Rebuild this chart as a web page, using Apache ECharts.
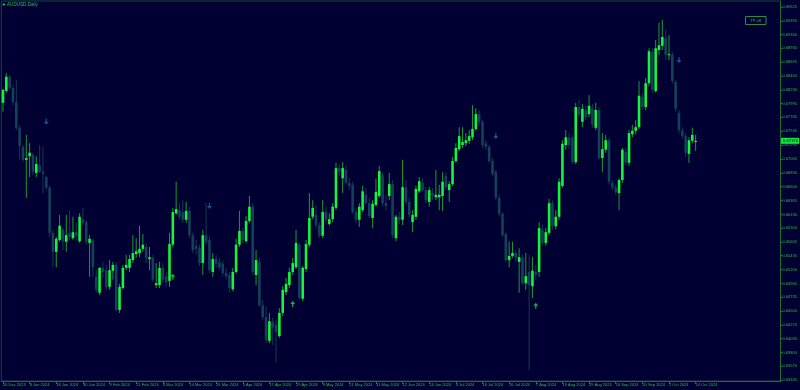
<!DOCTYPE html>
<html><head><meta charset="utf-8">
<script src="https://cdn.jsdelivr.net/npm/echarts@6/dist/echarts.min.js"></script>
<style>html,body{margin:0;padding:0;background:#000032;}#c{width:800px;height:390px;}</style>
</head><body><div id="c"></div>
<script>
const symbolTitle = 'AUDUSD,Daily';
const tpText = 'TP off';
const dateLabels = ['26 Dec 2023','8 Jan 2024','18 Jan 2024','30 Jan 2024','9 Feb 2024','21 Feb 2024','4 Mar 2024','14 Mar 2024','26 Mar 2024','5 Apr 2024','17 Apr 2024','29 Apr 2024','9 May 2024','21 May 2024','31 May 2024','12 Jun 2024','24 Jun 2024','4 Jul 2024','16 Jul 2024','26 Jul 2024','7 Aug 2024','19 Aug 2024','29 Aug 2024','10 Sep 2024','20 Sep 2024','2 Oct 2024','14 Oct 2024'];
const yTicks = [0.69625,0.69390,0.69160,0.68930,0.68695,0.68460,0.68230,0.67995,0.67765,0.67530,0.67295,0.67065,0.66830,0.66600,0.66365,0.66130,0.65900,0.65665,0.65435,0.65200,0.64965,0.64735,0.64500,0.64270,0.64035,0.63800,0.63570,0.63335];

const opens = [
0.6801,0.6821,0.6845,0.6826,0.6802,0.6759,0.6727,0.6705,0.6711,0.6713,
0.6683,0.6696,0.6685,0.6676,0.6658,0.6582,0.6550,0.6570,0.6587,0.6567,
0.6582,0.6573,0.6583,0.6568,0.6605,0.6600,0.6565,0.6570,0.6508,0.6481,
0.6523,0.6519,0.6491,0.6518,0.6528,0.6452,0.6489,0.6523,0.6523,0.6536,
0.6546,0.6548,0.6555,0.6558,0.6538,0.6540,0.6494,0.6494,0.6523,0.6508,
0.6501,0.6562,0.6615,0.6620,0.6617,0.6604,0.6619,0.6578,0.6560,0.6556,
0.6531,0.6578,0.6570,0.6516,0.6538,0.6533,0.6530,0.6514,0.6511,0.6487,
0.6516,0.6562,0.6585,0.6568,0.6602,0.6626,0.6511,0.6533,0.6460,0.6440,
0.6400,0.6432,0.6427,0.6408,0.6447,0.6482,0.6494,0.6516,0.6524,0.6562,
0.6471,0.6521,0.6562,0.6609,0.6612,0.6595,0.6577,0.6617,0.6597,0.6605,
0.6624,0.6691,0.6674,0.6688,0.6666,0.6663,0.6617,0.6604,0.6620,0.6646,
0.6632,0.6607,0.6629,0.6644,0.6679,0.6632,0.6644,0.6664,0.6573,0.6609,
0.6604,0.6659,0.6634,0.6600,0.6609,0.6652,0.6666,0.6654,0.6634,0.6649,
0.6642,0.6642,0.6644,0.6678,0.6654,0.6664,0.6703,0.6723,0.6730,0.6733,
0.6737,0.6743,0.6757,0.6782,0.6769,0.6733,0.6727,0.6703,0.6685,0.6641,
0.6614,0.6580,0.6536,0.6543,0.6548,0.6533,0.6540,0.6497,0.6516,0.6492,
0.6516,0.6516,0.6587,0.6565,0.6582,0.6632,0.6593,0.6609,0.6661,0.6730,
0.6743,0.6742,0.6701,0.6794,0.6769,0.6789,0.6782,0.6792,0.6759,0.6789,
0.6708,0.6722,0.6738,0.6666,0.6658,0.6649,0.6671,0.6718,0.6700,0.6748,
0.6754,0.6760,0.6811,0.6794,0.6834,0.6887,0.6821,0.6890,0.6897,0.6910,
0.6882,0.6882,0.6836,0.6784,0.6755,0.6745,0.6715,0.6737,0.6735];
const highs = [
0.6824,0.6851,0.6848,0.6831,0.6840,0.6764,0.6730,0.6747,0.6733,0.6717,
0.6711,0.6730,0.6727,0.6678,0.6661,0.6587,0.6575,0.6612,0.6590,0.6612,
0.6620,0.6609,0.6599,0.6615,0.6624,0.6604,0.6578,0.6573,0.6519,0.6524,
0.6533,0.6528,0.6536,0.6533,0.6533,0.6496,0.6528,0.6545,0.6545,0.6578,
0.6573,0.6594,0.6580,0.6565,0.6558,0.6545,0.6531,0.6533,0.6531,0.6516,
0.6582,0.6624,0.6668,0.6632,0.6637,0.6634,0.6626,0.6583,0.6570,0.6562,
0.6587,0.6632,0.6577,0.6548,0.6545,0.6540,0.6536,0.6523,0.6516,0.6523,
0.6572,0.6619,0.6590,0.6610,0.6644,0.6632,0.6553,0.6540,0.6469,0.6457,
0.6447,0.6439,0.6435,0.6455,0.6492,0.6506,0.6523,0.6540,0.6587,0.6565,
0.6526,0.6570,0.6649,0.6637,0.6629,0.6600,0.6637,0.6626,0.6615,0.6632,
0.6700,0.6698,0.6701,0.6696,0.6674,0.6668,0.6624,0.6632,0.6661,0.6658,
0.6641,0.6637,0.6673,0.6695,0.6684,0.6646,0.6683,0.6671,0.6612,0.6617,
0.6705,0.6671,0.6641,0.6620,0.6661,0.6676,0.6674,0.6659,0.6659,0.6658,
0.6688,0.6663,0.6684,0.6684,0.6669,0.6710,0.6733,0.6760,0.6760,0.6750,
0.6755,0.6797,0.6792,0.6789,0.6772,0.6738,0.6730,0.6708,0.6688,0.6646,
0.6617,0.6583,0.6567,0.6567,0.6553,0.6556,0.6545,0.6548,0.6545,0.6541,
0.6528,0.6600,0.6595,0.6590,0.6639,0.6637,0.6620,0.6674,0.6738,0.6755,
0.6750,0.6747,0.6801,0.6806,0.6799,0.6797,0.6814,0.6799,0.6801,0.6794,
0.6750,0.6747,0.6743,0.6671,0.6663,0.6674,0.6725,0.6725,0.6755,0.6764,
0.6772,0.6838,0.6818,0.6843,0.6893,0.6893,0.6907,0.6936,0.6941,0.6924,
0.6915,0.6887,0.6840,0.6789,0.6760,0.6750,0.6743,0.6759,0.6747];
const lows = [
0.6786,0.6818,0.6823,0.6797,0.6755,0.6705,0.6701,0.6641,0.6676,0.6679,
0.6676,0.6683,0.6649,0.6654,0.6575,0.6524,0.6524,0.6567,0.6553,0.6550,
0.6570,0.6570,0.6570,0.6565,0.6595,0.6562,0.6508,0.6508,0.6481,0.6477,
0.6506,0.6486,0.6486,0.6503,0.6449,0.6447,0.6486,0.6519,0.6516,0.6531,
0.6540,0.6541,0.6550,0.6531,0.6519,0.6499,0.6489,0.6489,0.6497,0.6492,
0.6491,0.6558,0.6612,0.6604,0.6599,0.6599,0.6573,0.6548,0.6545,0.6526,
0.6511,0.6562,0.6514,0.6508,0.6524,0.6519,0.6509,0.6504,0.6482,0.6484,
0.6513,0.6558,0.6565,0.6565,0.6599,0.6511,0.6494,0.6457,0.6435,0.6396,
0.6396,0.6393,0.6363,0.6405,0.6442,0.6477,0.6489,0.6511,0.6521,0.6469,
0.6467,0.6516,0.6558,0.6605,0.6590,0.6573,0.6573,0.6599,0.6594,0.6600,
0.6620,0.6678,0.6649,0.6663,0.6654,0.6614,0.6599,0.6592,0.6617,0.6629,
0.6607,0.6590,0.6626,0.6641,0.6627,0.6620,0.6637,0.6573,0.6568,0.6597,
0.6595,0.6629,0.6607,0.6583,0.6604,0.6649,0.6651,0.6632,0.6626,0.6637,
0.6637,0.6620,0.6619,0.6654,0.6634,0.6661,0.6700,0.6720,0.6725,0.6728,
0.6732,0.6738,0.6754,0.6762,0.6725,0.6722,0.6700,0.6678,0.6637,0.6609,
0.6575,0.6533,0.6524,0.6540,0.6533,0.6481,0.6494,0.6486,0.6351,0.6472,
0.6503,0.6508,0.6560,0.6560,0.6578,0.6587,0.6588,0.6604,0.6658,0.6722,
0.6722,0.6698,0.6698,0.6776,0.6760,0.6772,0.6777,0.6759,0.6755,0.6705,
0.6684,0.6717,0.6663,0.6654,0.6646,0.6620,0.6666,0.6696,0.6695,0.6743,
0.6748,0.6757,0.6789,0.6789,0.6829,0.6818,0.6818,0.6882,0.6890,0.6873,
0.6873,0.6833,0.6786,0.6750,0.6740,0.6710,0.6700,0.6733,0.6720];
const closes = [
0.6823,0.6845,0.6826,0.6802,0.6759,0.6728,0.6705,0.6708,0.6717,0.6685,
0.6698,0.6685,0.6681,0.6658,0.6582,0.6550,0.6572,0.6594,0.6567,0.6578,
0.6575,0.6583,0.6577,0.6609,0.6599,0.6567,0.6572,0.6524,0.6486,0.6523,
0.6516,0.6491,0.6519,0.6528,0.6452,0.6491,0.6523,0.6528,0.6538,0.6548,
0.6551,0.6555,0.6562,0.6540,0.6541,0.6503,0.6497,0.6523,0.6503,0.6499,
0.6563,0.6617,0.6622,0.6609,0.6604,0.6619,0.6578,0.6553,0.6555,0.6531,
0.6578,0.6567,0.6519,0.6538,0.6530,0.6524,0.6514,0.6509,0.6489,0.6516,
0.6562,0.6585,0.6570,0.6602,0.6626,0.6516,0.6536,0.6460,0.6440,0.6401,
0.6433,0.6422,0.6415,0.6447,0.6486,0.6496,0.6516,0.6531,0.6565,0.6472,
0.6523,0.6563,0.6607,0.6624,0.6595,0.6577,0.6617,0.6604,0.6605,0.6626,
0.6691,0.6685,0.6691,0.6666,0.6661,0.6617,0.6604,0.6626,0.6652,0.6632,
0.6610,0.6631,0.6651,0.6686,0.6632,0.6627,0.6664,0.6578,0.6609,0.6604,
0.6659,0.6634,0.6612,0.6612,0.6656,0.6669,0.6654,0.6637,0.6654,0.6644,
0.6646,0.6646,0.6668,0.6659,0.6664,0.6703,0.6725,0.6745,0.6735,0.6738,
0.6745,0.6757,0.6782,0.6769,0.6730,0.6727,0.6703,0.6681,0.6641,0.6614,
0.6578,0.6536,0.6543,0.6548,0.6540,0.6541,0.6497,0.6509,0.6494,0.6518,
0.6511,0.6590,0.6565,0.6583,0.6632,0.6593,0.6609,0.6668,0.6732,0.6743,
0.6730,0.6701,0.6794,0.6781,0.6791,0.6777,0.6796,0.6764,0.6789,0.6708,
0.6723,0.6738,0.6668,0.6658,0.6651,0.6671,0.6722,0.6701,0.6750,0.6754,
0.6760,0.6813,0.6794,0.6834,0.6888,0.6823,0.6893,0.6898,0.6912,0.6882,
0.6883,0.6838,0.6791,0.6755,0.6745,0.6717,0.6738,0.6747,0.6737];

// signal arrows: [bar index, price]
const sellArrows = [[13,0.6769],[62,0.6627],[148,0.6745],[203,0.6873]];
const buyArrows = [[51,0.6508],[87,0.6462],[160,0.6459]];

const SLOTS = 234;           // bars plus right-hand chart shift
const LABEL_STEP = 8;
const Y_MIN = 0.63323, Y_MAX = 0.69726;

const bullBody = '#14f53c', bullWick = '#1c9a36';
const bearBody = '#15405a', bearWick = '#143a52';
const axisGreen = '#1f7034', frameColor = '#17463a', textGreen = '#2cbd4c';
const FONT = 'Liberation Sans, Arial, sans-serif';

const cats = Array.from({length: SLOTS}, (_, i) => String(i));
const candleData = opens.map((o, i) => [i, o, closes[i], lows[i], highs[i]]);
const lastClose = closes[closes.length - 1];
const showIdx = (idx) => idx % LABEL_STEP === 0 && idx / LABEL_STEP < dateLabels.length;

const staticGraphics = [
  {type: 'rect', left: 2.7, top: 3.7, shape: {width: 2.3, height: 1.6}, style: {fill: '#22d84a'}},
  {type: 'text', left: 7, top: 2.6, style: {text: symbolTitle, fontSize: 4.6, fill: textGreen, fontFamily: FONT}},
  {type: 'rect', shape: {x: 745.5, y: 16.5, width: 20.5, height: 8}, style: {fill: 'none', stroke: '#2a8a4a', lineWidth: 1}},
  {type: 'text', x: 755.7, y: 20.5, style: {text: tpText, fontSize: 4, fill: textGreen, fontFamily: FONT, align: 'center', verticalAlign: 'middle'}}
];

const chart = echarts.init(document.getElementById('c'), null, {renderer: 'canvas'});
chart.setOption({
  animation: false,
  backgroundColor: '#000032',
  grid: {left: 0.5, right: 19, top: 1, bottom: 9, show: true, borderColor: frameColor, borderWidth: 1, backgroundColor: 'transparent'},
  xAxis: {
    type: 'category', data: cats, boundaryGap: true,
    axisLine: {show: true, lineStyle: {color: axisGreen, width: 1}},
    axisTick: {show: true, interval: showIdx, alignWithLabel: true, length: 3, lineStyle: {color: axisGreen}},
    axisLabel: {interval: showIdx, formatter: (v, idx) => dateLabels[idx / LABEL_STEP] || '', align: 'left', margin: 2, fontSize: 4, color: textGreen, fontFamily: FONT},
    splitLine: {show: false}
  },
  yAxis: {
    type: 'value', position: 'right', min: Y_MIN, max: Y_MAX, scale: true,
    axisLine: {show: true, lineStyle: {color: axisGreen, width: 1}},
    axisTick: {show: true, customValues: yTicks, length: 2, lineStyle: {color: axisGreen}},
    axisLabel: {customValues: yTicks, formatter: (v) => v.toFixed(5), fontSize: 4, margin: 2, color: textGreen, fontFamily: FONT},
    splitLine: {show: false}
  },
  series: [
    {
      type: 'custom', name: 'candles', data: candleData, clip: true,
      encode: {x: 0, y: [1, 2, 3, 4]},
      renderItem: function (params, api) {
        const i = api.value(0), o = api.value(1), c = api.value(2), l = api.value(3), h = api.value(4);
        const po = api.coord([i, o]), pc = api.coord([i, c]);
        const pl = api.coord([i, l]), ph = api.coord([i, h]);
        const bw = api.size([1, 0])[0] * 0.78;
        const up = c >= o;
        const top = Math.min(po[1], pc[1]);
        const hgt = Math.max(Math.abs(po[1] - pc[1]), 1);
        return {
          type: 'group',
          children: [
            {type: 'line', shape: {x1: po[0], y1: ph[1], x2: po[0], y2: pl[1]}, style: {stroke: up ? bullWick : bearWick, lineWidth: 1}},
            {type: 'rect', shape: {x: po[0] - bw / 2, y: top, width: bw, height: hgt}, style: {fill: up ? bullBody : bearBody}}
          ]
        };
      }
    },
    {
      type: 'scatter', name: 'sell', data: sellArrows,
      symbol: 'path://M3,0L5,0L5,4L8,4L4,8L0,4L3,4Z', symbolSize: [5, 6],
      itemStyle: {color: '#2465b0'}, silent: true
    },
    {
      type: 'scatter', name: 'buy', data: buyArrows,
      symbol: 'path://M4,0L8,4L5,4L5,8L3,8L3,4L0,4Z', symbolSize: [5, 6],
      itemStyle: {color: '#22d84a'}, silent: true
    }
  ],
  graphic: staticGraphics
});

// current bid label, placed through the y axis scale
const bidY = chart.convertToPixel({yAxisIndex: 0}, lastClose);
const axisX = chart.convertToPixel({xAxisIndex: 0}, SLOTS - 1) + chart.getModel().getComponent('xAxis', 0).axis.getBandWidth() / 2;
chart.setOption({
  graphic: staticGraphics.concat([
    {type: 'rect', shape: {x: axisX + 0.5, y: bidY - 3, width: 18, height: 6}, style: {fill: '#12e83a'}},
    {type: 'text', x: axisX + 2.5, y: bidY, style: {text: lastClose.toFixed(5), fontSize: 4.2, fill: '#000032', fontFamily: FONT, verticalAlign: 'middle'}}
  ])
}, {replaceMerge: ['graphic']});
</script>
</body></html>
